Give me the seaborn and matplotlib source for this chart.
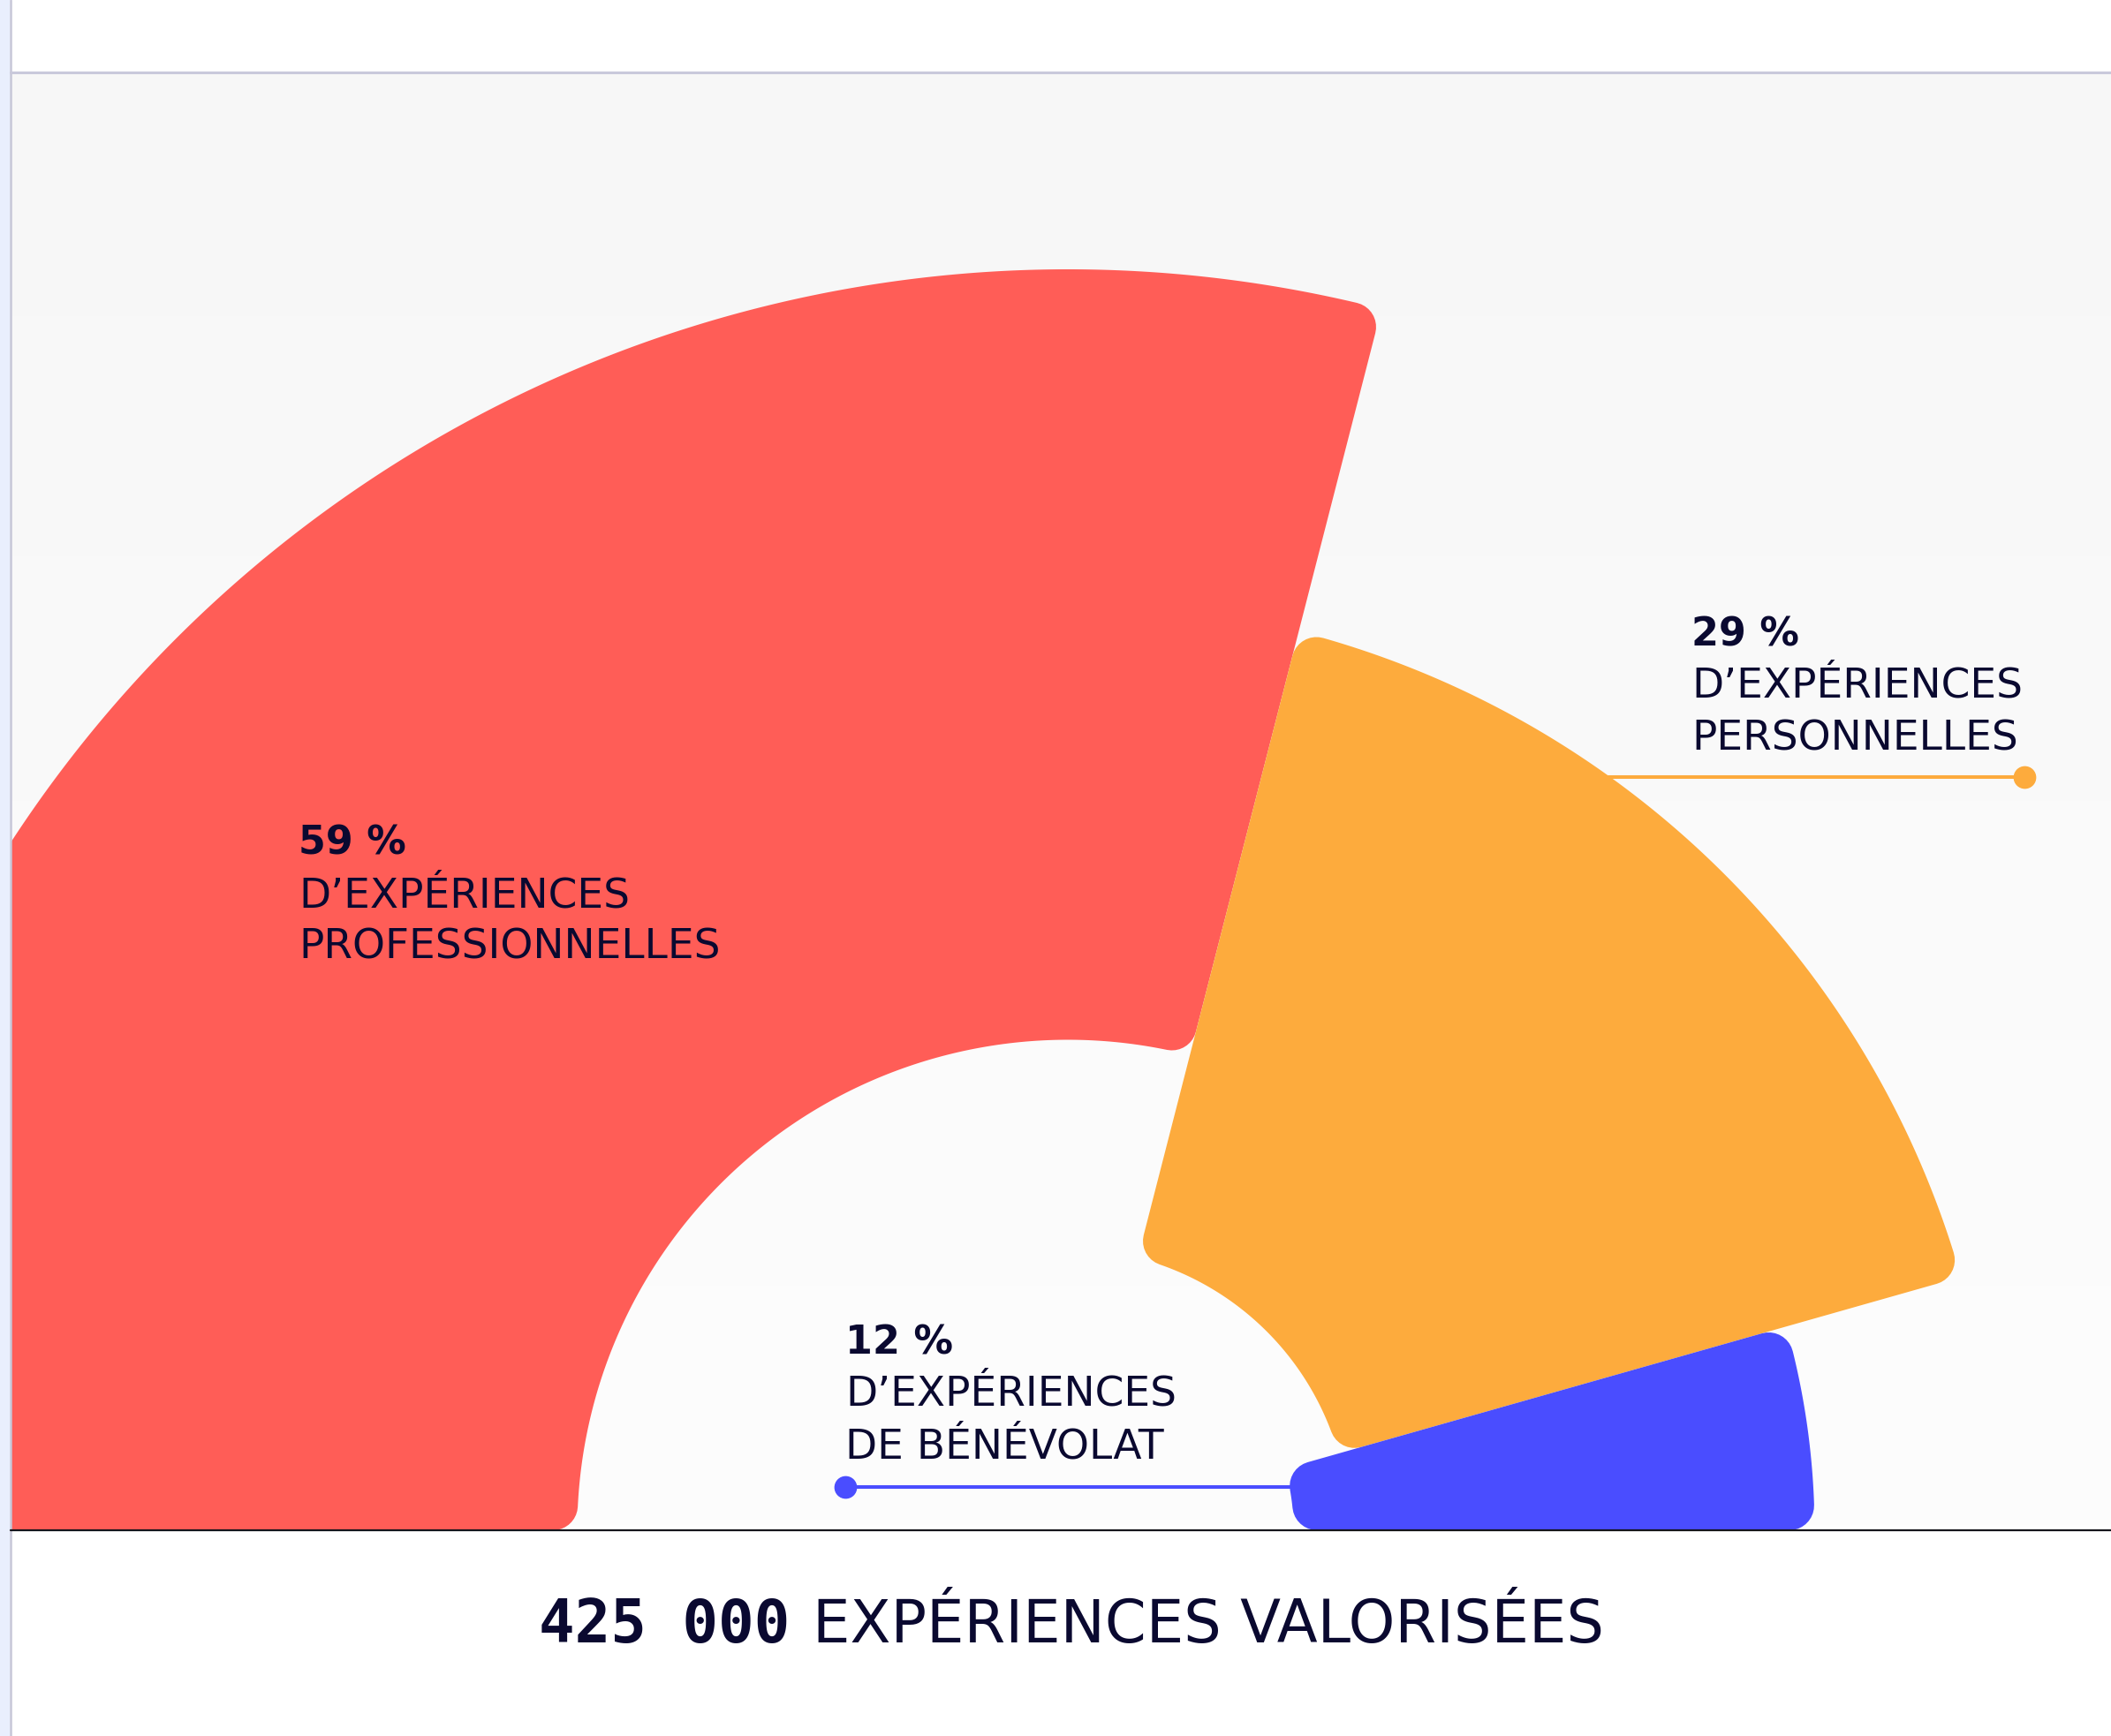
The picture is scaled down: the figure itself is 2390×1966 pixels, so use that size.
import numpy as np
import matplotlib
matplotlib.use("Agg")
import matplotlib.pyplot as plt
from matplotlib.patches import Polygon, Rectangle
from matplotlib.lines import Line2D
from matplotlib.colors import LinearSegmentedColormap
import seaborn as sns

# Data
categories = ["professionnelles", "personnelles", "bénévolat"]
shares = [59, 29, 12]  # printed shares (%)
label_lines = [
    ["D’EXPÉRIENCES", "PROFESSIONNELLES"],
    ["D’EXPÉRIENCES", "PERSONNELLES"],
    ["D’EXPÉRIENCES", "DE BÉNÉVOLAT"],
]
sweep_pct = [58.0, 33.2, 8.8]  # part of the half circle each arc covers, as drawn
outer_r = [100.0, 73.6, 59.2]  # radial extent, red outer edge = 100
inner_r = [38.9, 22.3, 17.9]
total_value = "425 000"
total_text = "EXPÉRIENCES VALORISÉES"

colors = sns.color_palette(["#ff5d57", "#fdab3d", "#4a4dff"])
ink = "#0a0930"

sns.set_theme(style="white")
plt.rcParams["font.family"] = ["DejaVu Sans"]

W, H, DPI = 2390, 1966, 100
cx, cy = 1209, 1733     # centre of the half circle (px)
scale = 14.28           # px per radial unit
left_px, top_px = 12, 81

fig = plt.figure(figsize=(W / DPI, H / DPI), dpi=DPI)
fig.patch.set_facecolor("white")
ax = fig.add_axes([left_px / W, (H - cy) / H, (W - left_px) / W, (cy - top_px) / H])
ax.set_xlim((left_px - cx) / scale, (W - cx) / scale)
ax.set_ylim(0, (cy - top_px) / scale)
ax.set_axis_off()


def to_data(xp, yp):
    return (xp - cx) / scale, (cy - yp) / scale


def fig_xy(xp, yp):
    return xp / W, 1 - yp / H


# soft vertical gradient behind the chart
grad = np.linspace(0, 1, 256).reshape(-1, 1)
cmap = LinearSegmentedColormap.from_list("bg", ["#f7f7f7", "#fdfdfd"])
ax.imshow(grad, extent=(*ax.get_xlim(), *ax.get_ylim()), aspect="auto",
          cmap=cmap, zorder=0, origin="upper")

# rounded annular sectors
corner = 28 / scale
lw_pts = 2 * corner * scale * 72 / DPI


def rounded_sector(a0, a1, r0, r1, c):
    ro, ri = r1 - c, r0 + c
    do, di = np.arcsin(c / ro), np.arcsin(c / ri)
    t_out = np.linspace(a1 - do, a0 + do, 300)
    t_in = np.linspace(a0 + di, a1 - di, 150)
    xs = np.concatenate([ro * np.cos(t_out), ri * np.cos(t_in)])
    ys = np.concatenate([ro * np.sin(t_out), ri * np.sin(t_in)])
    return np.column_stack([xs, ys])


ends = np.pi * (1 - np.cumsum([0] + sweep_pct) / 100)
for i in range(len(shares)):
    pts = rounded_sector(ends[i + 1], ends[i], inner_r[i], outer_r[i], corner)
    ax.add_patch(Polygon(pts, closed=True, fc=colors[i], ec=colors[i], lw=lw_pts,
                         joinstyle="round", zorder=3))

# leader lines with end dots
leaders = [None, (1800, 2292, 880), (1500, 957, 1684)]
for i, ld in enumerate(leaders):
    if ld is None:
        continue
    x0, y0 = to_data(ld[0], ld[2])
    x1, y1 = to_data(ld[1], ld[2])
    ax.plot([x0, x1], [y0, y1], color=colors[i], lw=2.9, zorder=2,
            solid_capstyle="butt")
    ax.plot([x1], [y1], "o", color=colors[i], ms=17.5, zorder=2)

# labels
label_pos = [(338, 968), (1915, 731), (957, 1533)]
for i, (lx, ly) in enumerate(label_pos):
    fig.text(*fig_xy(lx, ly), f"{shares[i]} %", fontsize=32, fontweight="bold",
             color=ink, va="baseline", ha="left", zorder=5)
    for j, line in enumerate(label_lines[i]):
        fig.text(*fig_xy(lx, ly + 59 * (j + 1)), line, fontsize=33.8, color=ink,
                 va="baseline", ha="left", zorder=5)

# frame pieces
fig.add_artist(Rectangle((0, 0), 10 / W, 1, transform=fig.transFigure,
                         color="#e9effd", zorder=4))
fig.add_artist(Line2D([11.5 / W, 11.5 / W], [0, 1], transform=fig.transFigure,
                      color="#c6c6d8", lw=1.8, zorder=4))
fig.add_artist(Line2D([left_px / W, 1], [1 - 81.5 / H, 1 - 81.5 / H],
                      transform=fig.transFigure, color="#c9c9db", lw=2.2, zorder=4))
fig.add_artist(Line2D([left_px / W, 1], [1 - cy / H, 1 - cy / H],
                      transform=fig.transFigure, color="#15151c", lw=1.6, zorder=4))

# total line under the chart
t1 = fig.text(*fig_xy(610, 1860), total_value, fontsize=48.5, fontweight="bold",
              family="DejaVu Sans Mono", color=ink, va="baseline", ha="left")
fig.canvas.draw()
bb = t1.get_window_extent(renderer=fig.canvas.get_renderer())
fig.text((bb.x1 + 26) / W, 1 - 1860 / H, total_text, fontsize=48.3, color=ink,
         va="baseline", ha="left")

fig.savefig("out.png", dpi=DPI, facecolor="white")
